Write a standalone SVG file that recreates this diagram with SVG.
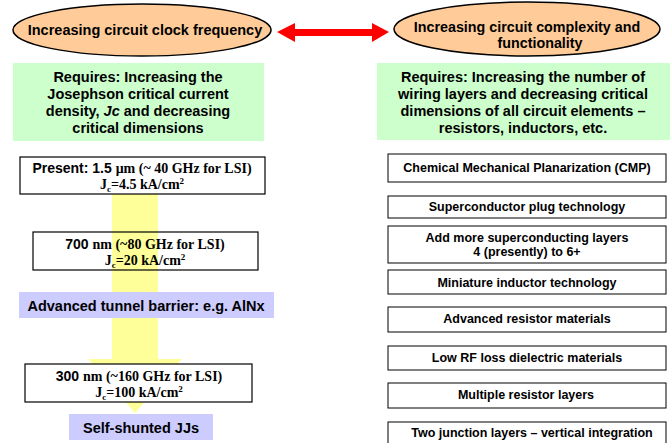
<svg xmlns="http://www.w3.org/2000/svg" width="670" height="443" viewBox="0 0 670 443">
  <style>
    .sans { font-family: "Liberation Sans", Arial, sans-serif; font-weight: bold; fill: #000; }
    .serif { font-family: "Liberation Serif", "Times New Roman", serif; font-weight: bold; fill: #000; }
    .goal { fill: #ffcc99; stroke: #000; stroke-width: 1.5; }
    .req { fill: #ccffcc; }
    .step { fill: #fff; stroke: #000; stroke-width: 1.2; }
    .open { fill: none; stroke: #000; stroke-width: 1.2; }
    .tech { fill: #ccccff; }
    .item { fill: #fff; stroke: #000; stroke-width: 1; }
  </style>

  <!-- yellow progress arrow behind the step boxes -->
  <g id="progress-arrow">
    <polygon points="112,194 158,194 158,359 182,359 135,413 88,359 112,359" fill="#ffff99"/>
  </g>

  <!-- connectors -->
  <g id="connectors">
    <polygon points="277,32 295,23 295,29 372,29 372,23 389,32 372,42 372,36 295,36 295,42" fill="#ff0000"/>
  </g>

  <!-- goals -->
  <g id="goal-clock">
    <ellipse class="goal" cx="142" cy="30" rx="129" ry="26"/>
    <text class="sans" x="145" y="35" font-size="14.5" text-anchor="middle">Increasing circuit clock frequency</text>
  </g>
  <g id="goal-complexity">
    <ellipse class="goal" cx="527" cy="29" rx="133" ry="27"/>
    <text class="sans" x="527" y="32" font-size="14.3" text-anchor="middle">Increasing circuit complexity and</text>
    <text class="sans" x="540" y="48" font-size="14.3" text-anchor="middle">functionality</text>
  </g>

  <!-- requirements -->
  <g id="req-clock">
    <rect class="req" x="13" y="63" width="251" height="78"/>
    <text class="sans" x="138" y="82" font-size="14.5" text-anchor="middle">Requires: Increasing the</text>
    <text class="sans" x="138" y="99" font-size="14.5" text-anchor="middle">Josephson critical current</text>
    <text class="sans" x="138" y="116" font-size="14.5" text-anchor="middle">density, <tspan font-style="italic">Jc</tspan> and decreasing</text>
    <text class="sans" x="138" y="133" font-size="14.5" text-anchor="middle">critical dimensions</text>
  </g>
  <g id="req-complexity">
    <rect class="req" x="377" y="63" width="293" height="77"/>
    <text class="sans" x="523" y="82" font-size="14.5" text-anchor="middle">Requires: Increasing the number of</text>
    <text class="sans" x="523" y="99" font-size="14.5" text-anchor="middle">wiring layers and decreasing critical</text>
    <text class="sans" x="523" y="116" font-size="14.5" text-anchor="middle">dimensions of all circuit elements –</text>
    <text class="sans" x="523" y="133" font-size="14.5" text-anchor="middle">resistors, inductors, etc.</text>
  </g>

  <!-- clock-frequency roadmap -->
  <g id="step-present">
    <rect class="step" x="20" y="157" width="245" height="37"/>
    <text x="142" y="173" font-size="14" text-anchor="middle"><tspan class="sans">Present: 1.5 </tspan><tspan class="serif">μm (~ 40 GHz for LSI)</tspan></text>
    <text class="serif" x="142" y="189" font-size="14" text-anchor="middle">J<tspan font-size="9" dy="3">c</tspan><tspan dy="-3">=4.5 kA/cm</tspan><tspan font-size="9" dy="-5">2</tspan></text>
  </g>
  <g id="step-700nm">
    <rect class="open" x="33" y="232" width="225" height="38"/>
    <text x="145" y="249" font-size="14" text-anchor="middle"><tspan class="sans">700 </tspan><tspan class="serif">nm (~80 GHz for LSI)</tspan></text>
    <text class="serif" x="145" y="265" font-size="14" text-anchor="middle">J<tspan font-size="9" dy="3">c</tspan><tspan dy="-3">=20 kA/cm</tspan><tspan font-size="9" dy="-5">2</tspan></text>
  </g>
  <g id="tech-barrier">
    <rect class="tech" x="19" y="292" width="255" height="26"/>
    <text class="sans" x="146" y="311" font-size="14.5" text-anchor="middle">Advanced tunnel barrier: e.g. AlNx</text>
  </g>
  <g id="step-300nm">
    <rect class="step" x="25" y="364" width="227" height="38"/>
    <text x="139" y="381" font-size="14" text-anchor="middle"><tspan class="sans">300 </tspan><tspan class="serif">nm (~160 GHz for LSI)</tspan></text>
    <text class="serif" x="139" y="397" font-size="14" text-anchor="middle">J<tspan font-size="9" dy="3">c</tspan><tspan dy="-3">=100 kA/cm</tspan><tspan font-size="9" dy="-5">2</tspan></text>
  </g>
  <g id="tech-selfshunt">
    <rect class="tech" x="69" y="414" width="144" height="26"/>
    <text class="sans" x="141" y="433" font-size="14.5" text-anchor="middle">Self-shunted JJs</text>
  </g>

  <!-- complexity roadmap -->
  <g id="item-cmp">
    <rect class="item" x="388" y="154" width="278" height="28"/>
    <text class="sans" x="527" y="172" font-size="12.5" text-anchor="middle">Chemical Mechanical Planarization (CMP)</text>
  </g>
  <g id="item-plug">
    <rect class="item" x="388" y="196" width="278" height="22"/>
    <text class="sans" x="527" y="211" font-size="12.5" text-anchor="middle">Superconductor plug technology</text>
  </g>
  <g id="item-layers">
    <rect class="item" x="388" y="226" width="278" height="37"/>
    <text class="sans" x="527" y="242" font-size="12.5" text-anchor="middle">Add more superconducting layers</text>
    <text class="sans" x="527" y="256" font-size="12.5" text-anchor="middle">4 (presently) to 6+</text>
  </g>
  <g id="item-inductor">
    <rect class="item" x="388" y="270" width="278" height="24" stroke-width="2"/>
    <text class="sans" x="527" y="287" font-size="12.5" text-anchor="middle">Miniature inductor technology</text>
  </g>
  <g id="item-resistor">
    <rect class="item" x="388" y="307" width="278" height="25"/>
    <text class="sans" x="527" y="323" font-size="12.5" text-anchor="middle">Advanced resistor materials</text>
  </g>
  <g id="item-dielectric">
    <rect class="item" x="388" y="346" width="278" height="24"/>
    <text class="sans" x="527" y="362" font-size="12.5" text-anchor="middle">Low RF loss dielectric materials</text>
  </g>
  <g id="item-resistor-layers">
    <rect class="item" x="388" y="383" width="278" height="25"/>
    <text class="sans" x="526" y="399" font-size="12.5" text-anchor="middle">Multiple resistor layers</text>
  </g>
  <g id="item-junctions">
    <rect class="item" x="388" y="422" width="278" height="26"/>
    <text class="sans" x="532" y="437" font-size="12.5" text-anchor="middle">Two junction layers – vertical integration</text>
  </g>
</svg>
